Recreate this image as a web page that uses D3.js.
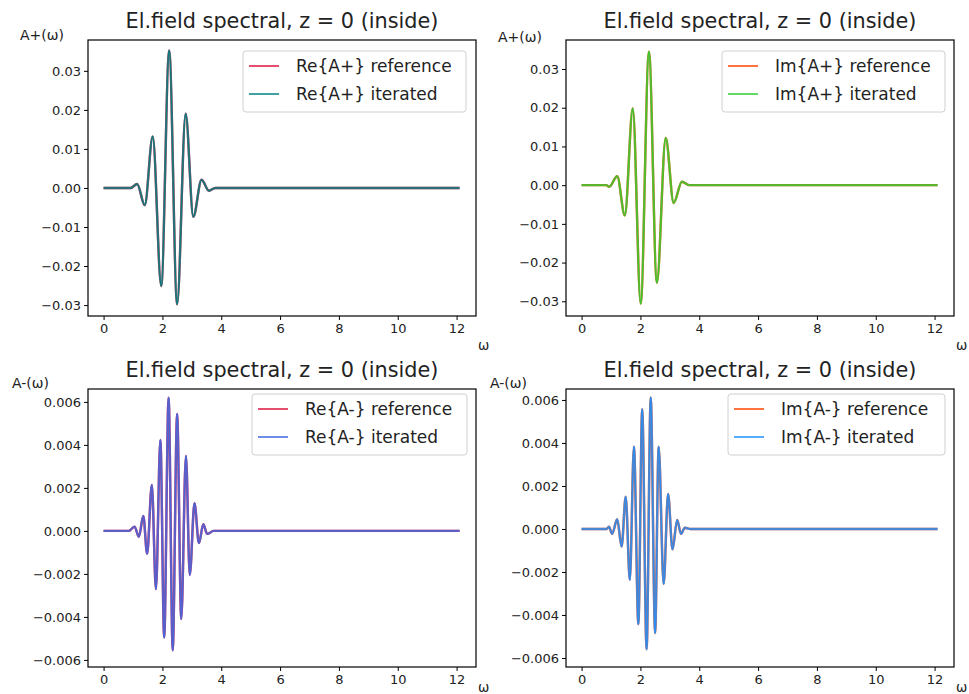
<!DOCTYPE html>
<html><head><meta charset="utf-8">
<script src="https://cdn.jsdelivr.net/npm/d3@7"></script>
<style>
body{margin:0;background:#fff;}
svg{display:block;font-family:"DejaVu Sans",sans-serif;}
</style></head>
<body><svg id="c" width="969" height="694"></svg>
<script>
// ---- data ----
const titleText = "El.field spectral, z = 0 (inside)";
const xTicks = [0, 2, 4, 6, 8, 10, 12];
const yTicksPlus = [-0.03, -0.02, -0.01, 0.00, 0.01, 0.02, 0.03];
const yTicksMinus = [-0.006, -0.004, -0.002, 0.000, 0.002, 0.004, 0.006];

// Re{A+}
const omegaReAp = [0, 0.92, 1.14, 1.40, 1.67, 1.96, 2.23, 2.50, 2.79, 3.05, 3.33, 3.58, 3.80, 12.1];
const valReAp   = [0, 0, 0.0010, -0.0044, 0.0132, -0.0251, 0.0352, -0.0298, 0.0190, -0.0074, 0.0021, -0.0007, 0, 0];
// Im{A+}
const omegaImAp = [0, 0.84, 0.94, 1.21, 1.47, 1.74, 2.01, 2.29, 2.56, 2.86, 3.13, 3.41, 3.67, 12.1];
const valImAp   = [0, 0, -0.0004, 0.0023, -0.0078, 0.0198, -0.0306, 0.0345, -0.0252, 0.0122, -0.0046, 0.0009, 0, 0];
// Re{A-}
const omegaReAm = [0, 0.86, 1.05, 1.20, 1.35, 1.48, 1.64, 1.78, 1.93, 2.06, 2.21, 2.35, 2.50, 2.64, 2.80, 2.93, 3.09, 3.24, 3.39, 3.52, 3.74, 12.1];
const valReAm   = [0, 0, 0.0002, -0.00027, 0.0007, -0.00107, 0.00214, -0.00271, 0.00423, -0.00496, 0.00620, -0.00555, 0.00544, -0.0041, 0.00349, -0.00205, 0.00129, -0.00057, 0.00031, -0.00014, 0, 0];
// Im{A-}
const omegaImAm = [0, 0.84, 0.93, 1.04, 1.21, 1.36, 1.50, 1.64, 1.78, 1.93, 2.06, 2.21, 2.35, 2.50, 2.62, 2.79, 2.94, 3.09, 3.25, 3.38, 3.51, 3.70, 12.1];
const valImAm   = [0, 0, 0.0001, -0.00023, 0.00045, -0.00082, 0.0015, -0.00237, 0.00383, -0.00443, 0.00557, -0.0056, 0.00612, -0.00484, 0.00383, -0.00256, 0.00163, -0.00095, 0.00042, -0.00023, 0.00006, 0, 0];

const legendLabels = [
  ["Re{A+} reference", "Re{A+} iterated"],
  ["Im{A+} reference", "Im{A+} iterated"],
  ["Re{A-} reference", "Re{A-} iterated"],
  ["Im{A-} reference", "Im{A-} iterated"]
];
const yLabels = ["A+(ω)", "A+(ω)", "A-(ω)", "A-(ω)"];

// ---- layout ----
const panels = [
  {l:88, r:476, t:40, b:316, yd:[-0.0328, 0.0379], yt:yTicksPlus, fmt:".2f",
   om:omegaReAp, ref:valReAp, it:valReAp, cRef:"#dc143c", cIt:"#008080",
   ylx:20, yly:40, leg:{x:243, y:51, w:223, h:61}},
  {l:566, r:954, t:40, b:316, yd:[-0.0338, 0.0375], yt:yTicksPlus, fmt:".2f",
   om:omegaImAp, ref:valImAp, it:valImAp, cRef:"#ff4500", cIt:"#32cd32",
   ylx:498, yly:42, leg:{x:722, y:51, w:223, h:61}},
  {l:88, r:476, t:389, b:667, yd:[-0.00633, 0.0066], yt:yTicksMinus, fmt:".3f",
   om:omegaReAm, ref:valReAm, it:valReAm, cRef:"#dc143c", cIt:"#4169e1",
   ylx:12, yly:388, leg:{x:252, y:394, w:215, h:61}},
  {l:566, r:954, t:389, b:667, yd:[-0.00642, 0.00651], yt:yTicksMinus, fmt:".3f",
   om:omegaImAm, ref:valImAm, it:valImAm, cRef:"#ff4500", cIt:"#1e90ff",
   ylx:490, yly:388, leg:{x:728, y:394, w:217, h:61}}
];

const svg = d3.select("#c");

panels.forEach((p, i) => {
  const x = d3.scaleLinear().domain([-0.53, 12.66]).range([p.l, p.r]);
  const y = d3.scaleLinear().domain(p.yd).range([p.b, p.t]);
  const g = svg.append("g");

  const cid = "clip" + i;
  svg.append("clipPath").attr("id", cid).append("rect")
    .attr("x", p.l).attr("y", p.t).attr("width", p.r - p.l).attr("height", p.b - p.t);

  const data = p.om.map((o, k) => ({o, r: p.ref[k], v: p.it[k]}));
  const lineRef = d3.line().x(d => x(d.o)).y(d => y(d.r)).curve(d3.curveMonotoneX);
  const lineIt = d3.line().x(d => x(d.o)).y(d => y(d.v)).curve(d3.curveMonotoneX);
  const lg = g.append("g").attr("clip-path", `url(#${cid})`);
  lg.append("path").datum(data).attr("d", lineRef).attr("fill", "none")
    .attr("stroke", p.cRef).attr("stroke-width", 2.4).attr("stroke-opacity", 0.9);
  lg.append("path").datum(data).attr("d", lineIt).attr("fill", "none")
    .attr("stroke", p.cIt).attr("stroke-width", 2.4).attr("stroke-opacity", 0.65);
  lg.append("path").datum(data).attr("d", lineIt).attr("fill", "none")
    .attr("stroke", p.cIt).attr("stroke-width", 1.0).attr("stroke-opacity", 0.9);

  const xa = g.append("g").attr("transform", `translate(0,${p.b})`)
    .call(d3.axisBottom(x).tickValues(xTicks).tickFormat(d3.format("d")).tickSize(4).tickPadding(4));
  const ya = g.append("g").attr("transform", `translate(${p.l},0)`)
    .call(d3.axisLeft(y).tickValues(p.yt).tickFormat(d3.format(p.fmt)).tickSize(4).tickPadding(3));
  [xa, ya].forEach(a => {
    a.select(".domain").remove();
    a.selectAll("line").attr("stroke", "#000").attr("stroke-width", 1);
    a.selectAll("text").attr("font-size", 13).attr("fill", "#222")
      .attr("font-family", "DejaVu Sans, sans-serif");
  });

  g.append("rect").attr("x", p.l).attr("y", p.t).attr("width", p.r - p.l).attr("height", p.b - p.t)
    .attr("fill", "none").attr("stroke", "#000").attr("stroke-width", 1.2);

  g.append("text").attr("x", (p.l + p.r) / 2).attr("y", p.t - 12).attr("text-anchor", "middle")
    .attr("font-size", 20.8).attr("fill", "#222").text(titleText);
  g.append("text").attr("x", p.ylx).attr("y", p.yly).attr("font-size", 14).attr("fill", "#222").text(yLabels[i]);
  g.append("text").attr("x", p.r + 2).attr("y", Math.min(p.b + 34, 692)).attr("font-size", 13.5)
    .attr("fill", "#222").text("ω");

  const L = p.leg;
  const lgd = g.append("g");
  lgd.append("rect").attr("x", L.x).attr("y", L.y).attr("width", L.w).attr("height", L.h)
    .attr("rx", 3).attr("fill", "#fff").attr("fill-opacity", 0.85).attr("stroke", "#d0d0d0");
  [p.cRef, p.cIt].forEach((c, k) => {
    const yy = L.y + 15 + k * 28;
    lgd.append("line").attr("x1", L.x + 6).attr("x2", L.x + 36).attr("y1", yy).attr("y2", yy)
      .attr("stroke", c).attr("stroke-width", 1.5);
    lgd.append("text").attr("x", L.x + 53).attr("y", yy + 6).attr("font-size", 17).attr("fill", "#222")
      .text(legendLabels[i][k]);
  });
});
</script></body></html>
